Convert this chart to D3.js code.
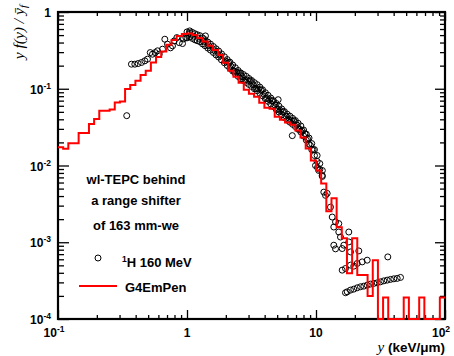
<!DOCTYPE html>
<html>
<head>
<meta charset="utf-8">
<title>wl-TEPC lineal energy</title>
<script src="https://d3js.org/d3.v7.min.js"></script>
<style>
    body { margin: 0; background: #fff; }
    svg text { font-family: "Liberation Sans", Arial, Helvetica, sans-serif; font-weight: bold; fill: #000; }
    svg text.serif { font-family: "Liberation Serif", "Times New Roman", serif; font-style: italic; font-weight: normal; }
    .tick line { stroke: #000; stroke-width: 1.3; }
</style>
</head>
<body>
<script>
// G4EmPen: 25 log bins per decade between binLow and binHigh
var binLow = 0.1, binHigh = 100;
var g4Values = [
    0.0173, 0.0165, 0.0195, 0.0195, 0.0266, 0.0266, 0.0348, 0.0404, 0.0518, 0.0518,
    0.0538, 0.0664, 0.0684, 0.099, 0.112, 0.127, 0.151, 0.171, 0.22, 0.26,
    0.305, 0.373, 0.433, 0.488, 0.518, 0.523, 0.503, 0.459, 0.414, 0.362,
    0.321, 0.276, 0.218, 0.171, 0.143, 0.120, 0.097, 0.086, 0.0787, 0.0658,
    0.0566, 0.055, 0.0433, 0.0396, 0.0362, 0.034, 0.0285, 0.0231, 0.0166, 0.0116,
    0.0086, 0.00583, 0.00253, 0.00373, 0.00157, 0.00113, 0.000396, 0.00113, 0.000373, 0.000373,
    0.000199, 0.000584, 0, 0.00019, 0, 0, 0, 0.00019, 0, 0,
    0.00019, 0, 0, 0, 0.00019
];

// 1H 160 MeV measured points
var lowX = [0.341, 0.371, 0.394, 0.418, 0.444, 0.471, 0.494, 0.519, 0.540, 0.567, 0.591, 0.609,
            0.646, 0.673, 0.706, 0.745, 0.772, 0.796, 0.834, 0.871, 0.923, 0.939, 0.979, 1.045];
var lowY = [0.0446, 0.209, 0.209, 0.213, 0.220, 0.231, 0.243, 0.296, 0.282, 0.296, 0.312, 0.282,
            0.328, 0.442, 0.381, 0.341, 0.362, 0.420, 0.464, 0.399, 0.388, 0.446, 0.464, 0.534];

var bandX = [1.00, 1.05, 1.10, 1.15, 1.20, 1.26, 1.32, 1.38, 1.45, 1.52, 1.60, 1.68, 1.76, 1.85, 1.95,
             2.05, 2.15, 2.26, 2.37, 2.49, 2.61, 2.74, 2.88, 3.02, 3.17, 3.33, 3.50, 3.67, 3.85, 4.05,
             4.25, 4.46, 4.68, 4.92, 5.16, 5.42, 5.69, 5.98, 6.28, 6.59, 6.92, 7.27, 7.63, 8.01, 8.41,
             8.83, 9.27, 9.73, 10.2, 10.7, 11.2];
var bandUpper = [0.550, 0.567, 0.542, 0.521, 0.506, 0.491, 0.460, 0.435, 0.405, 0.382, 0.355, 0.331, 0.310, 0.285, 0.261,
                 0.240, 0.222, 0.204, 0.188, 0.173, 0.161, 0.153, 0.145, 0.136, 0.128, 0.120, 0.113, 0.105, 0.0971, 0.0887,
                 0.0821, 0.0757, 0.0698, 0.0643, 0.0594, 0.0546, 0.0504, 0.0466, 0.0439, 0.0411, 0.0385, 0.0355, 0.0327, 0.0290, 0.0256,
                 0.0228, 0.0193, 0.0161, 0.0135, 0.0106, 0.0086];
var bandLower = [0.460, 0.474, 0.453, 0.435, 0.423, 0.410, 0.384, 0.364, 0.339, 0.319, 0.297, 0.276, 0.259, 0.238, 0.218,
                 0.201, 0.185, 0.170, 0.158, 0.145, 0.135, 0.128, 0.121, 0.114, 0.107, 0.100, 0.0942, 0.0874, 0.0811, 0.0741,
                 0.0686, 0.0633, 0.0584, 0.0537, 0.0497, 0.0457, 0.0421, 0.0390, 0.0367, 0.0344, 0.0322, 0.0297, 0.0273, 0.0242, 0.0214,
                 0.0190, 0.0161, 0.0135, 0.0113, 0.00888, 0.0072];
var midX = [1.03, 1.13, 1.23, 1.35, 1.48, 1.64, 1.80, 2.00, 2.20, 2.43, 2.67, 2.95,
            3.25, 3.58, 3.95, 4.35, 4.80, 5.30, 5.85, 6.45, 7.10, 7.80, 8.60, 9.50, 1.39, 5.09, 6.55];
var midY = [0.510, 0.484, 0.455, 0.408, 0.362, 0.313, 0.273, 0.229, 0.195, 0.165, 0.144, 0.129,
            0.113, 0.0991, 0.0848, 0.0722, 0.0612, 0.0519, 0.0441, 0.0388, 0.0338, 0.0283, 0.0222, 0.0161, 0.488, 0.0720, 0.0245];
var fillX = [2.10, 2.32, 2.55, 2.81, 3.10, 3.42, 3.76, 4.15, 4.57, 5.04, 5.57, 6.14, 6.76, 7.45, 8.20, 9.05];
var fillY = [0.220, 0.170, 0.160, 0.130, 0.126, 0.101, 0.0962, 0.0746, 0.0697, 0.0540, 0.0500, 0.0395, 0.0380, 0.0298, 0.0260, 0.0182];

var tailX = [9.91, 10.27, 10.51, 11.17, 11.50, 11.85, 12.21, 12.95, 13.36, 13.74, 13.74, 14.17, 14.17,
             15.02, 15.02, 15.48, 15.96, 16.43, 17.96, 17.96, 18.51, 21.47];
var tailY = [0.0100, 0.00942, 0.00861, 0.00742, 0.0045, 0.00408, 0.00433, 0.00287, 0.00213, 0.00158, 0.000915, 0.00184, 0.00082,
             0.00175, 0.00136, 0.00117, 0.000828, 0.000915, 0.00136, 0.00101, 0.000748, 0.000771];
var armHighX = [15.96, 16.93, 18.51, 19.63, 20.86, 22.81, 24.94, 36.03];
var armHighY = [0.000433, 0.000455, 0.000503, 0.000488, 0.000529, 0.000555, 0.000584, 0.000644];
var armLowX = [16.93, 17.46, 18.51, 19.63, 20.86, 22.13, 23.48, 24.94, 26.45, 28.06, 29.82, 31.62,
               33.54, 35.64, 37.80, 40.10, 42.61, 45.19];
var armLowY = [0.000220, 0.000226, 0.000238, 0.000245, 0.000255, 0.000263, 0.000268, 0.000276, 0.000285, 0.000291, 0.000296, 0.000305,
               0.000314, 0.000321, 0.000328, 0.000334, 0.000338, 0.000348];

var xMajor = [0.1, 1, 10, 100];
var xLabels = [["10", "-1"], ["1", ""], ["10", ""], ["10", "2"]];
var yMajor = [1e-4, 1e-3, 1e-2, 1e-1, 1];
var yLabels = [["10", "-4"], ["10", "-3"], ["10", "-2"], ["10", "-1"], ["1", ""]];
var noteLines = ["wl-TEPC behind", "a range shifter", "of 163 mm-we"];

var width = 454, height = 356;
var frame = {left: 58, right: 445, top: 12, bottom: 319};

var svg = d3.select('body').append('svg')
    .attr('width', width)
    .attr('height', height);

var x = d3.scaleLog().domain([0.1, 100]).range([frame.left, frame.right]);
var y = d3.scaleLog().domain([1e-4, 1]).range([frame.bottom, frame.top]);

function minorTicks(lo, hi) {
    var out = [];
    for (var e = Math.log10(lo); e < Math.log10(hi); e++) {
        for (var m = 2; m <= 9; m++) out.push(m * Math.pow(10, e));
    }
    return out;
}
var xMinor = minorTicks(0.1, 100);
var yMinor = minorTicks(1e-4, 1);

// ticks, all pointing into the frame
function addAxis(axis, tx, ty) {
    var g = svg.append('g').attr('transform', 'translate(' + tx + ',' + ty + ')').call(axis);
    g.select('.domain').remove();
    return g;
}
addAxis(d3.axisBottom(x).tickValues(xMajor).tickSize(-9).tickFormat(''), 0, frame.bottom);
addAxis(d3.axisBottom(x).tickValues(xMinor).tickSize(-4).tickFormat(''), 0, frame.bottom);
addAxis(d3.axisTop(x).tickValues(xMajor).tickSize(-9).tickFormat(''), 0, frame.top);
addAxis(d3.axisTop(x).tickValues(xMinor).tickSize(-4).tickFormat(''), 0, frame.top);
addAxis(d3.axisLeft(y).tickValues(yMajor).tickSize(-11).tickFormat(''), frame.left, 0);
addAxis(d3.axisLeft(y).tickValues(yMinor).tickSize(-6).tickFormat(''), frame.left, 0);
addAxis(d3.axisRight(y).tickValues(yMajor).tickSize(-10).tickFormat(''), frame.right, 0);
addAxis(d3.axisRight(y).tickValues(yMinor).tickSize(-5).tickFormat(''), frame.right, 0);

svg.append('rect')
    .attr('x', frame.left).attr('y', frame.top)
    .attr('width', frame.right - frame.left)
    .attr('height', frame.bottom - frame.top)
    .attr('fill', 'none').attr('stroke', '#000').attr('stroke-width', 2.2);

// tick labels
function powLabel(sel, lab) {
    sel.append('tspan').text(lab[0]);
    if (lab[1]) sel.append('tspan').attr('dy', -5).style('font-size', '8.5px').text(lab[1]);
}
xMajor.forEach(function(v, i) {
    var t = svg.append('text')
        .attr('x', x(v) - (xLabels[i][1] ? 4 : 0))
        .attr('y', 336.5)
        .attr('text-anchor', 'middle')
        .style('font-size', '12px');
    powLabel(t, xLabels[i]);
});
yMajor.forEach(function(v, i) {
    var t = svg.append('text')
        .attr('x', 51)
        .attr('y', y(v) + 5)
        .attr('text-anchor', 'end')
        .style('font-size', '12px');
    powLabel(t, yLabels[i]);
});

// axis titles
var yt = svg.append('text')
    .attr('class', 'serif')
    .attr('transform', 'translate(24,5) rotate(-90)')
    .attr('text-anchor', 'end')
    .style('font-size', '15.5px');
yt.append('tspan').text('y f(y) / \u0233');
yt.append('tspan').attr('dy', 3).style('font-size', '11px').text('f');

var xt = svg.append('text')
    .attr('x', 445).attr('y', 352)
    .attr('text-anchor', 'end');
xt.append('tspan')
    .style('font-family', '"Liberation Serif", serif').style('font-style', 'italic').style('font-weight', 'normal')
    .style('font-size', '15px').text('y');
xt.append('tspan').style('font-size', '13.5px').text(' (keV/\u03bcm)');

// measured points
var points = [];
function pushSeries(xs, ys) {
    xs.forEach(function(v, i) { points.push([v, ys[i]]); });
}
pushSeries(lowX, lowY);
pushSeries(bandX, bandUpper);
pushSeries(bandX, bandLower);
pushSeries(midX, midY);
pushSeries(fillX, fillY);
pushSeries(tailX, tailY);
pushSeries(armHighX, armHighY);
pushSeries(armLowX, armLowY);

svg.append('g').selectAll('circle')
    .data(points)
    .enter()
    .append('circle')
    .attr('cx', function(d) { return x(d[0]); })
    .attr('cy', function(d) { return y(d[1]); })
    .attr('r', 3)
    .attr('fill', 'none')
    .attr('stroke', '#000')
    .attr('stroke-width', 1);

// G4EmPen step histogram
var nBins = g4Values.length;
var step = (Math.log10(binHigh) - Math.log10(binLow)) / nBins;
var histPts = [];
g4Values.forEach(function(v, i) {
    var lo = Math.pow(10, Math.log10(binLow) + i * step);
    var hi = Math.pow(10, Math.log10(binLow) + (i + 1) * step);
    var val = Math.max(v, 1e-4);
    histPts.push([lo, val], [hi, val]);
});
svg.append('path')
    .datum(histPts)
    .attr('d', d3.line().x(function(d) { return x(d[0]); }).y(function(d) { return y(d[1]); }))
    .attr('fill', 'none')
    .attr('stroke', '#ff0000')
    .attr('stroke-width', 2);

// note and legend
noteLines.forEach(function(s, i) {
    svg.append('text')
        .attr('x', 136).attr('y', [184, 205, 230][i])
        .attr('text-anchor', 'middle')
        .style('font-size', '13px')
        .text(s);
});

svg.append('circle')
    .attr('cx', 98).attr('cy', 258).attr('r', 3)
    .attr('fill', 'none').attr('stroke', '#000').attr('stroke-width', 1);
var l1 = svg.append('text').attr('x', 122).attr('y', 267).style('font-size', '13px');
l1.append('tspan').attr('dy', -5).style('font-size', '8.5px').text('1');
l1.append('tspan').attr('dy', 5).text('H 160 MeV');

svg.append('line')
    .attr('x1', 79).attr('x2', 117).attr('y1', 286).attr('y2', 286)
    .attr('stroke', '#ff0000').attr('stroke-width', 2);
svg.append('text').attr('x', 125).attr('y', 291.5).style('font-size', '13px').text('G4EmPen');
</script>
</body>
</html>
